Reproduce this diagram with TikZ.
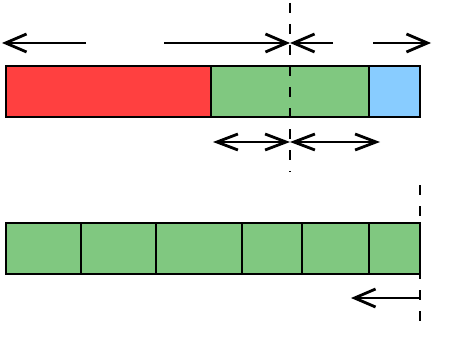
\documentclass[tikz,border=0pt]{standalone}
\usepackage{xcolor}
\usetikzlibrary{arrows.meta, positioning}

\definecolor{segred}{HTML}{FF4040}
\definecolor{seggreen}{HTML}{80C880}
\definecolor{segblue}{HTML}{88CCFF}

\begin{document}
\begin{tikzpicture}[
        x=1pt, y=-1pt,
        seg/.style={rectangle, draw=black, line width=2.8pt, minimum height=51pt, inner sep=0pt, outer sep=0pt},
        ptr/.style={-{Straight Barb[length=21pt, width=18pt, line width=2.8pt]}, line width=2.8pt},
        span/.style={{Straight Barb[length=21pt, width=16pt, line width=2.8pt]}-{Straight Barb[length=21pt, width=16pt, line width=2.8pt]}, line width=2.8pt},
        cut/.style={line width=2.8pt, dash pattern=on 10pt off 11pt},
    ]
        \useasboundingbox (0,0) rectangle (450,353);
        % upper row
        \node[seg, fill=segred, minimum width=205pt, anchor=north west] (red) at (6,66) {};
        \node[seg, fill=seggreen, minimum width=158pt, right=0pt of red] (grn) {};
        \node[seg, fill=segblue, minimum width=51pt, right=0pt of grn] (blu) {};
        % lower row
        \node[seg, fill=seggreen, minimum width=75pt, anchor=north west] (c1) at (6,223) {};
        \node[seg, fill=seggreen, minimum width=75pt, right=0pt of c1] (c2) {};
        \node[seg, fill=seggreen, minimum width=86pt, right=0pt of c2] (c3) {};
        \node[seg, fill=seggreen, minimum width=60pt, right=0pt of c3] (c4) {};
        \node[seg, fill=seggreen, minimum width=67pt, right=0pt of c4] (c5) {};
        \node[seg, fill=seggreen, minimum width=51pt, right=0pt of c5] (c6) {};
        % split lines
        \coordinate (cuttop) at (290,3);
        \coordinate (cutbot) at (290,172);
        \coordinate (endtop) at (420,185);
        \coordinate (endbot) at (420,321);
        \draw[cut] (cuttop) -- (cutbot);
        \draw[cut] (endtop) -- (endbot);
        % pointers
        \coordinate (a1) at (86,43);
        \coordinate (a2) at (2,43);
        \coordinate (b1) at (164,43);
        \coordinate (b2) at (290,43);
        \coordinate (b3) at (333,43);
        \coordinate (d1) at (373,43);
        \coordinate (d2) at (431,43);
        \draw[ptr] (a1) -- (a2);
        \draw[ptr] (b1) -- (b2);
        \draw[ptr] (b3) -- (b2);
        \draw[ptr] (d1) -- (d2);
        \coordinate (s1) at (213,142);
        \coordinate (s2) at (290,142);
        \coordinate (s3) at (380,142);
        \draw[span] (s1) -- (s2);
        \draw[span] (s2) -- (s3);
        \coordinate (e1) at (420,298);
        \coordinate (e2) at (351,298);
        \draw[ptr] (e1) -- (e2);
    \end{tikzpicture}
\end{document}
